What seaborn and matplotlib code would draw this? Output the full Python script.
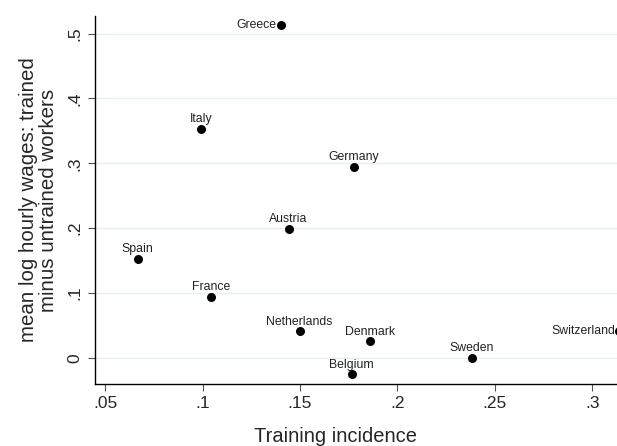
import matplotlib
matplotlib.use("Agg")
import matplotlib.pyplot as plt
import seaborn as sns
import pandas as pd

# datos
paises = ["Greece", "Italy", "Germany", "Austria", "Spain", "France",
          "Netherlands", "Denmark", "Sweden", "Belgium", "Switzerland"]
incidencia = [0.1402, 0.0991, 0.1777, 0.1441, 0.0666, 0.1044,
              0.1498, 0.1859, 0.2382, 0.1766, 0.3137]
salarios = [0.5126, 0.3533, 0.2948, 0.1993, 0.1530, 0.0945,
            0.0410, 0.0262, 0.0005, -0.0247, 0.0416]
# etiquetas a la izquierda del punto (las demás van arriba)
izquierda = ["Greece", "Switzerland"]

xticks = [0.05, 0.10, 0.15, 0.20, 0.25, 0.30]
xticklabels = [".05", ".1", ".15", ".2", ".25", ".3"]
yticks = [0.0, 0.1, 0.2, 0.3, 0.4, 0.5]
yticklabels = ["0", ".1", ".2", ".3", ".4", ".5"]

df = pd.DataFrame({"pais": paises, "x": incidencia, "y": salarios})

sns.set_style("white")
plt.rcParams["font.family"] = ["Liberation Sans", "DejaVu Sans"]

fig = plt.figure(figsize=(6.17, 4.46), dpi=100)
ax = fig.add_axes([95.3 / 617, 62 / 446, 1 - 95.3 / 617, (384 - 16) / 446])

sns.scatterplot(data=df, x="x", y="y", ax=ax, color="black", s=42,
                edgecolor="black", linewidth=0, zorder=3)

for _, fila in df.iterrows():
    if fila["pais"] in izquierda:
        ax.annotate(fila["pais"], (fila["x"], fila["y"]), xytext=(-3, 0),
                    textcoords="offset points", ha="right", va="center",
                    fontsize=8.8, color="#222222", annotation_clip=False)
    else:
        ax.annotate(fila["pais"], (fila["x"], fila["y"]), xytext=(0, 4.6),
                    textcoords="offset points", ha="center", va="baseline",
                    fontsize=8.8, color="#222222", annotation_clip=False)

ax.set_xlim(0.0449, 0.3127)
ax.set_ylim(-0.040, 0.527)
ax.set_xticks(xticks)
ax.set_xticklabels(xticklabels)
ax.set_yticks(yticks)
ax.set_yticklabels(yticklabels, rotation=90, va="center")
ax.tick_params(axis="both", direction="out", length=5, width=0.8,
               color="#555555", labelsize=12.5, pad=4, left=True, bottom=True)
ax.yaxis.grid(True, color="#e3eff2", linewidth=1)
ax.xaxis.grid(False)
ax.set_axisbelow(True)

for lado in ["top", "right"]:
    ax.spines[lado].set_visible(False)
for lado in ["left", "bottom"]:
    ax.spines[lado].set_color("black")
    ax.spines[lado].set_linewidth(1)

ax.set_xlabel("Training incidence", fontsize=14.5)
ax.xaxis.set_label_coords((335 - 95.3) / (617 - 95.3), -(427 - 384) / 368)
ax.set_ylabel("mean log hourly wages: trained\nminus untrained workers",
              fontsize=14.8, linespacing=1.05)
ax.yaxis.set_label_coords(-(95.3 - 58) / (617 - 95.3), 0.5)

fig.savefig("out.png", dpi=100)
